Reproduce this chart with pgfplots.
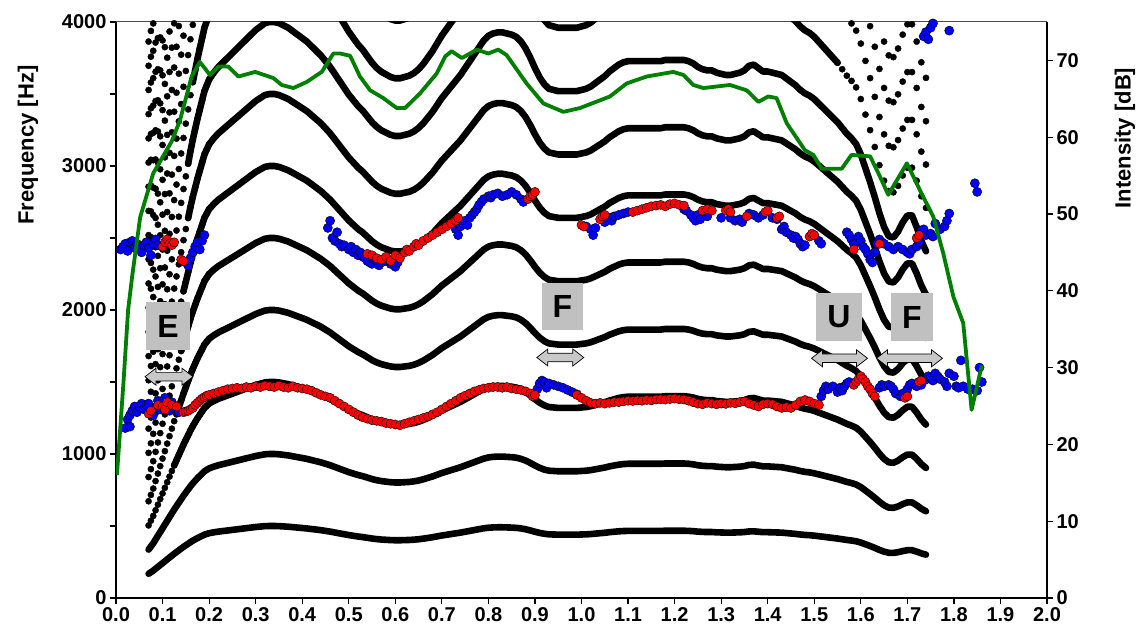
\documentclass[border=0pt]{standalone}
\usepackage{fontspec}
\setmainfont{Liberation Sans}
\usepackage{pgfplots}
\pgfplotsset{compat=1.18}
\usepackage{pgfplotstable}
\definecolor{cgreen}{RGB}{0,128,0}
\definecolor{cblue}{RGB}{0,0,255}
\definecolor{cred}{RGB}{255,0,0}
\definecolor{boxgray}{RGB}{192,192,192}
\definecolor{arrgray}{RGB}{200,200,200}

% fundamental frequency (Hz) read from the harmonic tracks
\pgfplotstableread{
x f
0.070 168
0.075 179
0.080 190
0.085 203
0.090 216
0.095 229
0.100 242
0.105 255
0.110 268
0.115 281
0.120 294
0.125 307
0.130 319
0.135 331
0.140 343
0.145 355
0.150 366
0.155 377
0.160 388
0.165 398
0.170 407
0.175 416
0.180 424
0.185 432
0.190 440
0.195 445
0.20 450
0.21 456
0.22 461
0.23 465
0.24 469
0.25 473
0.26 477
0.27 481
0.28 485
0.29 489
0.30 493
0.31 496
0.32 499
0.33 500
0.34 500
0.35 499
0.36 497
0.37 495
0.38 492
0.39 489
0.40 486
0.41 483
0.42 479
0.43 475
0.44 471
0.45 466
0.46 461
0.47 455
0.48 449
0.49 443
0.50 437
0.51 432
0.52 427
0.53 423
0.54 418
0.55 413
0.56 409
0.57 406
0.58 404
0.59 402
0.60 401
0.61 401
0.62 402
0.63 403
0.64 405
0.65 408
0.66 412
0.67 417
0.68 422
0.69 428
0.70 434
0.71 439
0.72 444
0.73 449
0.74 454
0.75 460
0.76 466
0.77 472
0.78 478
0.79 484
0.80 488
0.81 490
0.82 491
0.83 491
0.84 490
0.85 489
0.86 487
0.87 483
0.88 477
0.89 469
0.90 460
0.91 452
0.92 446
0.93 442
0.94 441
0.95 440
0.96 440
0.97 440
0.98 440
0.99 440
1.00 441
1.01 442
1.02 444
1.03 447
1.04 450
1.05 453
1.06 457
1.07 460
1.08 463
1.09 465
1.10 466
1.11 466
1.12 466
1.13 466
1.14 466
1.15 466
1.16 466
1.17 466
1.18 467
1.19 467
1.20 467
1.21 467
1.22 467
1.23 466
1.24 464
1.25 461
1.26 459
1.27 458
1.28 458
1.29 456
1.30 455
1.31 454
1.32 454
1.33 455
1.34 456
1.35 458
1.36 462
1.37 463
1.38 460
1.39 457
1.40 457
1.41 456
1.42 455
1.43 454
1.44 451
1.45 448
1.46 445
1.47 441
1.48 438
1.49 436
1.50 433
1.51 429
1.52 425
1.53 421
1.54 417
1.55 413
1.56 408
1.57 403
1.58 399
1.59 394
1.60 385
1.61 373
1.62 361
1.63 348
1.64 334
1.65 322
1.66 314
1.67 313
1.68 318
1.69 326
1.70 332
1.71 332
1.72 322
1.73 310
1.74 301
}\fzero

\begin{document}
\begin{tikzpicture}[x=1bp,y=1bp]
\pgfplotsset{
  mybase/.style={width=931bp,height=576bp,scale only axis,xmin=0,xmax=2,
    tick align=outside, major tick length=6bp, minor tick length=6bp,
    tick style={black,line width=1.2bp},
    axis line style={line width=1.4bp,black},
    ticklabel style={font=\bfseries\fontsize{20bp}{24bp}\selectfont},
    /pgf/number format/assume math mode=true,
    /pgf/number format/1000 sep={},
    clip=true,
  },
  harm/.style={black,line width=6.6bp,line cap=round,line join=round},
  hdot/.style={only marks,mark=*,mark size=3.1bp,mark options={draw=none,fill=black}},
}
\begin{axis}[mybase, ymin=0, ymax=4000,
  axis x line*=bottom, axis y line*=left,
  xtick distance=0.1,
  xticklabel={\pgfmathprintnumber[fixed,fixed zerofill,precision=1]{\tick}},
  ytick={0,1000,2000,3000,4000}, minor ytick={500,1500,2500,3500},
  yticklabel={\pgfmathprintnumber[fixed,precision=0]{\tick}},
]
\draw[line width=1bp,black!70] (rel axis cs:0,1) -- (rel axis cs:1,1);
% harmonic lines
\addplot[harm] table[x=x,y expr=1*\thisrow{f}]{\fzero};
\addplot[harm] table[x=x,y expr=2*\thisrow{f}]{\fzero};
\addplot[harm,restrict x to domain=0.123:1.75] table[x=x,y expr=3*\thisrow{f}]{\fzero};
\addplot[harm,restrict x to domain=0.128:1.75] table[x=x,y expr=4*\thisrow{f}]{\fzero};
\addplot[harm,restrict x to domain=0.138:1.75] table[x=x,y expr=5*\thisrow{f}]{\fzero};
\addplot[harm,restrict x to domain=0.143:1.75] table[x=x,y expr=6*\thisrow{f}]{\fzero};
\addplot[harm,restrict x to domain=0.153:1.75] table[x=x,y expr=7*\thisrow{f}]{\fzero};
\addplot[harm,restrict x to domain=0.153:1.75] table[x=x,y expr=8*\thisrow{f}]{\fzero};
\addplot[harm,restrict x to domain=0.163:1.555] table[x=x,y expr=9*\thisrow{f}]{\fzero};
\addplot[harm,restrict x to domain=0.173:1.555] table[x=x,y expr=10*\thisrow{f}]{\fzero};
% harmonic frames shown as dots (onset and offset)
\pgfplotsinvokeforeach{3,...,24}{
  \addplot[hdot,restrict x to domain=0.06:0.205,restrict y to domain=0:4040]
    table[x=x,y expr=#1*\thisrow{f}]{\fzero};
}
\pgfplotsinvokeforeach{9,...,14}{
  \addplot[hdot,restrict x to domain=1.545:1.75,restrict y to domain=0:4040]
    table[x=x,y expr=#1*\thisrow{f}]{\fzero};
}
% formant tracks, blue
\addplot[only marks,mark=*,mark size=4.6bp,mark options={draw=none,fill=cblue}] coordinates {
(0.02,1180)(0.025,1240)(0.03,1270)(0.035,1300)(0.04,1330)(0.045,1290)(0.05,1330)(0.055,1350)(0.06,1310)(0.065,1340)(0.07,1350)(0.075,1300)(0.08,1270)(0.085,1320)(0.09,1370)(0.095,1310)(0.10,1350)(0.105,1390)(0.11,1330)(0.115,1300)(0.12,1360)(0.125,1320)(0.13,1300)(0.135,1290)(0.03,1190)
(0.905,1450)(0.91,1490)(0.915,1510)(0.92,1500)(0.925,1460)(0.93,1490)(0.94,1480)(0.95,1470)(0.96,1460)(0.97,1445)(0.98,1430)(0.99,1415)
(1.515,1400)(1.52,1440)(1.525,1470)(1.53,1450)(1.54,1470)(1.55,1430)(1.555,1460)(1.56,1440)(1.565,1470)(1.57,1490)(1.575,1500)
(1.64,1460)(1.645,1480)(1.65,1470)(1.66,1480)(1.665,1470)(1.67,1450)(1.675,1420)(1.685,1400)(1.69,1420)(1.70,1450)(1.705,1480)(1.71,1490)(1.72,1470)(1.725,1500)(1.73,1480)(1.74,1520)(1.745,1540)(1.75,1530)(1.755,1510)(1.76,1560)(1.765,1540)(1.77,1520)(1.78,1500)(1.785,1470)(1.79,1560)(1.80,1540)(1.805,1470)(1.81,1460)(1.815,1650)(1.82,1470)(1.83,1450)(1.84,1450)(1.85,1440)(1.855,1600)(1.86,1500)
(0.01,2420)(0.015,2440)(0.02,2460)(0.025,2410)(0.03,2470)(0.035,2480)(0.04,2430)(0.045,2460)(0.05,2440)(0.055,2400)(0.06,2450)(0.065,2470)(0.07,2430)(0.075,2380)(0.08,2460)(0.085,2490)(0.09,2450)
(0.15,2330)(0.155,2310)(0.16,2360)(0.165,2400)(0.17,2440)(0.175,2470)(0.18,2420)(0.185,2480)(0.19,2520)
(0.455,2570)(0.46,2620)(0.465,2500)(0.47,2480)(0.475,2540)(0.48,2460)(0.485,2440)(0.49,2450)(0.50,2420)(0.505,2440)(0.51,2400)(0.515,2420)(0.52,2380)(0.525,2400)(0.53,2370)(0.535,2360)(0.54,2340)(0.545,2330)(0.55,2320)(0.555,2350)(0.56,2340)(0.565,2310)(0.57,2330)(0.58,2340)(0.59,2320)(0.60,2300)(0.605,2330)
(0.73,2560)(0.735,2520)(0.74,2580)(0.745,2600)(0.75,2620)(0.755,2590)(0.76,2640)(0.765,2660)(0.77,2680)(0.775,2700)(0.78,2730)(0.785,2750)(0.79,2770)(0.80,2790)(0.805,2780)(0.81,2800)(0.82,2810)(0.83,2790)(0.84,2800)(0.85,2820)(0.86,2800)(0.87,2770)(0.875,2750)
(1.01,2580)(1.02,2560)(1.025,2520)(1.03,2570)(1.05,2610)(1.06,2640)(1.065,2620)(1.07,2650)(1.08,2660)(1.09,2670)(1.10,2680)(1.22,2700)(1.225,2690)(1.235,2660)(1.24,2640)(1.245,2620)(1.25,2660)(1.255,2630)(1.27,2650)(1.30,2640)(1.32,2640)(1.33,2620)(1.34,2630)(1.345,2610)(1.36,2670)(1.37,2660)(1.38,2640)(1.39,2660)(1.41,2640)(1.42,2630)(1.43,2560)(1.435,2580)(1.44,2540)(1.45,2520)(1.455,2500)(1.46,2510)(1.465,2490)(1.47,2460)(1.475,2440)(1.48,2450)(1.51,2480)(1.515,2460)
(1.57,2540)(1.575,2520)(1.58,2490)(1.585,2460)(1.59,2470)(1.595,2510)(1.60,2480)(1.605,2440)(1.61,2420)(1.615,2390)(1.62,2350)(1.625,2330)(1.63,2400)(1.635,2460)(1.64,2490)(1.645,2470)(1.65,2460)(1.66,2440)(1.67,2420)(1.68,2440)(1.69,2420)(1.70,2400)(1.705,2390)(1.71,2420)(1.72,2440)(1.725,2470)(1.73,2550)(1.735,2560)(1.74,2520)(1.75,2530)(1.755,2510)(1.76,2600)(1.77,2560)(1.78,2580)(1.785,2620)(1.79,2670)(1.845,2880)(1.85,2820)
(1.735,3900)(1.74,3930)(1.745,3880)(1.75,3960)(1.755,3990)(1.79,3940)
};
% formant tracks, red
\addplot[only marks,mark=*,mark size=4.6bp,mark options={draw=none,fill=cred}] coordinates {
(0.07,1280)(0.075,1300)(0.09,1340)(0.10,1330)(0.105,1310)(0.11,1360)(0.12,1340)(0.13,1330)
(0.145,1290)(0.15,1295)(0.155,1300)(0.16,1310)(0.165,1320)(0.17,1340)(0.175,1355)(0.18,1370)(0.185,1385)(0.19,1395)(0.195,1405)(0.20,1410)(0.21,1420)(0.22,1430)(0.23,1440)(0.24,1450)(0.25,1455)(0.26,1460)(0.27,1455)(0.28,1465)(0.29,1460)(0.30,1470)(0.31,1465)(0.32,1475)(0.33,1470)(0.34,1465)(0.35,1475)(0.36,1465)(0.37,1460)(0.38,1470)(0.39,1460)(0.40,1455)(0.41,1450)(0.42,1440)(0.43,1425)(0.44,1410)(0.45,1400)(0.46,1390)(0.47,1370)(0.48,1350)(0.49,1330)(0.50,1310)(0.51,1290)(0.52,1270)(0.53,1255)(0.54,1245)(0.55,1235)(0.56,1230)(0.57,1225)(0.58,1215)(0.59,1210)(0.60,1205)(0.61,1200)(0.62,1210)(0.63,1220)(0.64,1230)(0.65,1240)(0.66,1250)(0.67,1260)(0.68,1275)(0.69,1290)(0.70,1310)(0.71,1330)(0.72,1350)(0.73,1370)(0.74,1390)(0.75,1405)(0.76,1420)(0.77,1435)(0.78,1445)(0.79,1455)(0.80,1460)(0.81,1465)(0.82,1465)(0.83,1460)(0.84,1465)(0.85,1455)(0.86,1450)(0.87,1445)(0.88,1435)(0.89,1420)(0.895,1400)(0.90,1410)
(0.99,1410)(1.00,1390)(1.01,1370)(1.02,1355)(1.03,1350)(1.04,1355)(1.05,1350)(1.06,1355)(1.07,1360)(1.08,1360)(1.09,1365)(1.10,1370)(1.11,1368)(1.12,1372)(1.13,1370)(1.14,1375)(1.15,1372)(1.16,1378)(1.17,1380)(1.18,1378)(1.19,1382)(1.20,1385)(1.21,1380)(1.22,1378)(1.23,1370)(1.24,1360)(1.25,1350)(1.26,1345)(1.27,1355)(1.28,1350)(1.29,1345)(1.30,1350)(1.31,1348)(1.32,1355)(1.33,1352)(1.34,1360)(1.35,1365)(1.36,1350)(1.37,1340)(1.38,1330)(1.39,1345)(1.40,1350)(1.41,1345)(1.42,1330)(1.43,1320)(1.44,1325)(1.45,1320)(1.46,1340)(1.47,1365)(1.48,1375)(1.49,1365)(1.50,1350)(1.51,1340)
(1.585,1480)(1.59,1500)(1.595,1520)(1.60,1540)(1.605,1520)(1.61,1500)(1.615,1470)(1.62,1450)(1.625,1420)(1.63,1400)(1.695,1390)(1.70,1400)(1.725,1500)(1.73,1510)
(0.10,2440)(0.105,2470)(0.11,2490)(0.115,2460)(0.12,2450)(0.125,2470)(0.14,2350)(0.145,2340)
(0.54,2390)(0.55,2380)(0.56,2360)(0.57,2350)(0.58,2370)(0.59,2340)(0.60,2380)(0.61,2360)(0.62,2400)(0.625,2420)(0.63,2410)(0.64,2440)(0.645,2460)(0.65,2450)(0.66,2480)(0.67,2500)(0.68,2520)(0.69,2540)(0.70,2560)(0.71,2580)(0.72,2600)(0.73,2620)(0.735,2640)
(0.885,2770)(0.89,2790)(0.895,2800)(0.90,2820)
(1.00,2590)(1.005,2580)(1.04,2630)(1.045,2650)(1.05,2660)(1.11,2680)(1.12,2690)(1.13,2700)(1.14,2710)(1.15,2720)(1.16,2725)(1.17,2730)(1.18,2720)(1.19,2735)(1.20,2740)(1.21,2730)(1.22,2725)(1.26,2690)(1.27,2700)(1.28,2690)(1.31,2690)(1.315,2700)(1.32,2680)(1.355,2650)(1.395,2680)(1.40,2690)(1.42,2640)(1.425,2650)(1.49,2510)(1.495,2530)(1.50,2520)
(1.585,2420)(1.64,2460)(1.72,2500)(1.725,2520)
};
\end{axis}

\begin{axis}[mybase, ymin=0, ymax=75,
  hide x axis, axis y line*=right,
  ytick={0,10,...,70},
  yticklabel={\pgfmathprintnumber[fixed,precision=0]{\tick}},
]
\addplot[cgreen,line width=3.8bp,line join=round] coordinates {
(0.002,16.0)(0.016,28)(0.026,37.5)(0.035,42)(0.052,49.6)(0.08,55.3)(0.12,59.5)(0.1375,62.2)(0.1625,67.9)(0.18,69.8)(0.202,68.1)(0.22,69.2)(0.241,69.2)(0.263,67.9)(0.299,68.5)(0.338,67.7)(0.356,66.8)(0.381,66.4)(0.41,67.2)(0.442,68.5)(0.467,70.9)(0.481,70.9)(0.503,70.6)(0.524,67.9)(0.546,66.1)(0.574,65.1)(0.603,63.8)(0.621,63.8)(0.653,65.7)(0.689,68.3)(0.707,70.5)(0.721,71.2)(0.743,70.3)(0.775,71.4)(0.8,70.9)(0.821,71.4)(0.839,70.7)(0.882,67)(0.918,64.4)(0.961,63.3)(0.997,63.8)(1.061,65.3)(1.097,67)(1.14,67.9)(1.197,68.5)(1.219,68.1)(1.24,66.8)(1.262,66.4)(1.319,66.8)(1.355,66.1)(1.38,64.6)(1.401,65.3)(1.419,65.1)(1.441,61.8)(1.48,58.3)(1.498,57.7)(1.516,55.9)(1.559,55.9)(1.58,57.7)(1.62,57.5)(1.641,54.9)(1.659,52.5)(1.699,56.6)(1.727,53.1)(1.756,49.6)(1.777,44.9)(1.799,39.2)(1.82,35.8)(1.838,24.5)(1.86,30.3)
};
\end{axis}

% axis titles
\node[rotate=90,font=\bfseries\fontsize{22bp}{26bp}\selectfont] at (-88,453) {Frequency [Hz]};
\node[rotate=90,font=\bfseries\fontsize{22bp}{26bp}\selectfont] at (1009,460) {Intensity [dB]};

% labels in grey boxes
\tikzset{lab/.style={fill=boxgray,inner sep=0pt,font=\bfseries\fontsize{32bp}{32bp}\selectfont}}
\node[lab,minimum width=44bp,minimum height=48bp] at (52,272) {E};
\node[lab,minimum width=41bp,minimum height=47bp] at (446.5,291.5) {F};
\node[lab,minimum width=46bp,minimum height=48bp] at (723,281) {U};
\node[lab,minimum width=42bp,minimum height=48bp] at (796,281) {F};

% double arrows
\newcommand{\dblarrow}[3]{% cx, cy, length
  \draw[fill=arrgray,draw=black,line width=0.7bp]
    (#1-#3/2,#2) -- (#1-#3/2+11,#2+8.5) -- (#1-#3/2+11,#2+4.3) -- (#1+#3/2-11,#2+4.3)
    -- (#1+#3/2-11,#2+8.5) -- (#1+#3/2,#2) -- (#1+#3/2-11,#2-8.5) -- (#1+#3/2-11,#2-4.3)
    -- (#1-#3/2+11,#2-4.3) -- (#1-#3/2+11,#2-8.5) -- cycle;}
\dblarrow{53}{221.3}{48}
\dblarrow{444.3}{240.5}{47}
\dblarrow{723.5}{239.7}{56}
\dblarrow{793.5}{239.7}{66}

\pgfresetboundingbox
\path[use as bounding box] (-116,-39) rectangle (1028,598);
\end{tikzpicture}
\end{document}
